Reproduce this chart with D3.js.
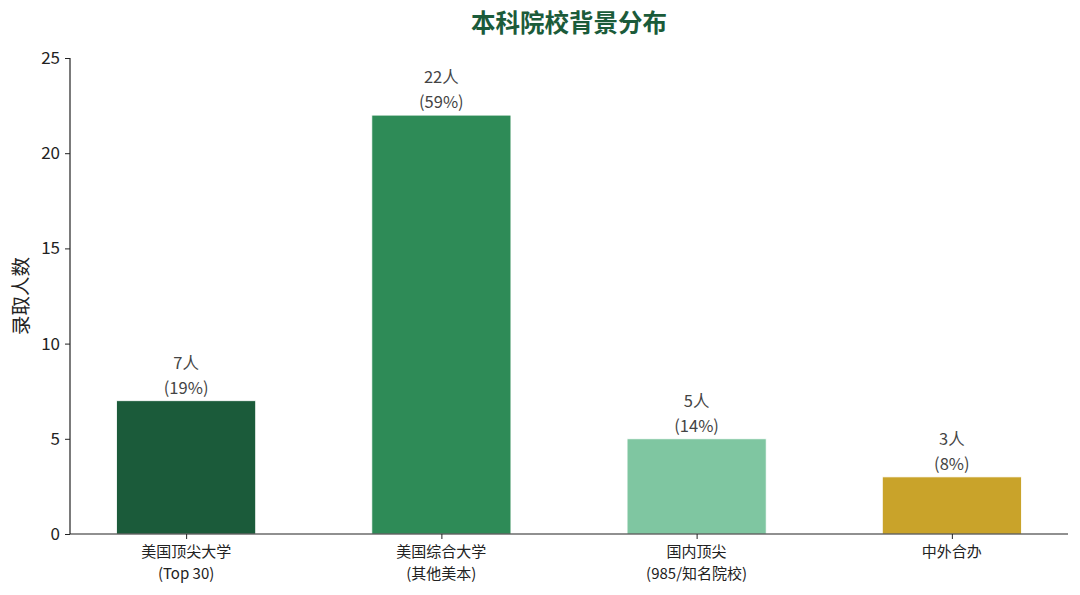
<!DOCTYPE html>
<html><head><meta charset="utf-8">
<script src="https://cdn.jsdelivr.net/npm/d3@7"></script>
<style>
body{margin:0;background:#fff;}
svg{font-family:"Noto Sans CJK SC","Noto Sans",sans-serif;}
</style></head><body>
<svg id="c" width="1080" height="595"></svg>
<script>
const categories = ["美国顶尖大学\n(Top 30)","美国综合大学\n(其他美本)","国内顶尖\n(985/知名院校)","中外合办"];
const counts = [7,22,5,3];
const percents = ["19%","59%","14%","8%"];
const colors = ["#1b5b3a","#2e8b57","#7fc6a1","#c9a32a"];
const yTicks = [0,5,10,15,20,25];
const title = "本科院校背景分布";
const yLabel = "录取人数";

const svg = d3.select("#c");
const L=70,R=1068,T=58,B=534;
const x = d3.scaleLinear().domain([-0.455,3.455]).range([L,R]);
const y = d3.scaleLinear().domain([0,25]).range([B,T]);
const bw = 0.545;

svg.append("text").attr("x",569).attr("y",32).attr("text-anchor","middle")
  .style("font-size","24.5px").attr("font-weight","bold").attr("fill","#1b5b3a").text(title);

const g = svg.append("g");
g.selectAll("rect.bar").data(counts).join("rect").attr("class","bar")
  .attr("x",(d,i)=>x(i-bw/2)).attr("width",x(bw)-x(0))
  .attr("y",d=>y(d)).attr("height",d=>y(0)-y(d))
  .attr("fill",(d,i)=>colors[i]).attr("stroke","#fff").attr("stroke-width",0.8);

g.selectAll("text.cnt").data(counts).join("text").attr("class","cnt")
  .attr("x",(d,i)=>x(i)).attr("y",d=>y(d)-32).attr("text-anchor","middle")
  .style("font-size","16.5px").attr("fill","#444").text(d=>d+"人");
g.selectAll("text.pct").data(counts).join("text").attr("class","pct")
  .attr("x",(d,i)=>x(i)).attr("y",d=>y(d)-7).attr("text-anchor","middle")
  .style("font-size","16.5px").attr("fill","#444").text((d,i)=>"("+percents[i]+")");

const yAxis = d3.axisLeft(y).tickValues(yTicks).tickSize(5).tickPadding(5);
const ya = svg.append("g").attr("transform",`translate(${L},0)`).call(yAxis);
ya.attr("font-size",null).attr("font-family",null);
ya.selectAll(".domain").attr("d",`M0,${T}V${B}`).attr("stroke","#222").attr("stroke-width",1.2);
ya.selectAll("text").style("font-size","17px").attr("fill","#222");
ya.selectAll(".tick line").attr("stroke","#222");

const xAxis = d3.axisBottom(x).tickValues([0,1,2,3]).tickSize(5).tickFormat("");
const xa = svg.append("g").attr("transform",`translate(0,${B})`).call(xAxis);
xa.select(".domain").attr("d",`M${L},0H${R}`).attr("stroke","#222").attr("stroke-width",1.2);
xa.selectAll(".tick line").attr("stroke","#222");
categories.forEach((c,i)=>{
  c.split("\n").forEach((ln,j)=>svg.append("text").attr("text-anchor","middle")
    .style("font-size","15px").attr("fill","#222")
    .attr("x",x(i)).attr("y",B+23+j*22).text(ln));
});

svg.append("text").attr("transform","translate(28,296) rotate(-90)").attr("text-anchor","middle")
  .style("font-size","19.5px").attr("fill","#222").text(yLabel);
</script></body></html>
